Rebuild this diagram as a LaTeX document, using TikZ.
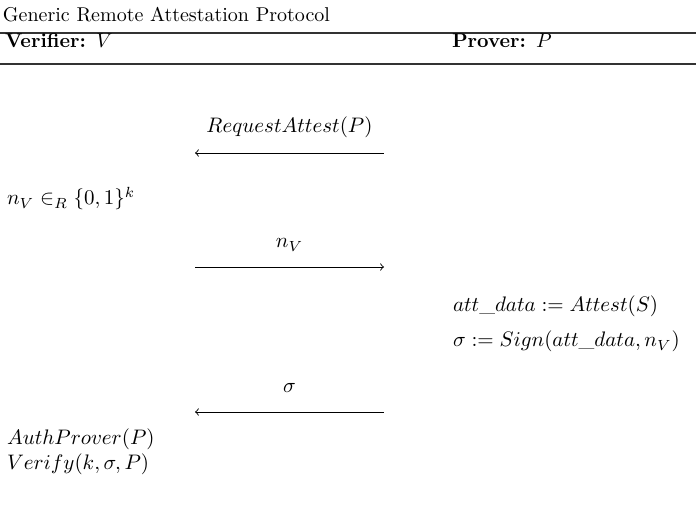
\documentclass[tikz,border=0pt]{standalone}
\usetikzlibrary{positioning}

\begin{document}
\begin{tikzpicture}
[x=0.5pt,y=-0.5pt,
 every node/.style={inner sep=0mm,outer sep=0mm},
 txt/.style={anchor=base west,scale=1.05},
 lbl/.style={anchor=base,scale=1.05},
 head/.style={anchor=base west,font=\bfseries},
 msg/.style={line width=0.45pt},
 hrule/.style={line width=0.7pt,black!80}]
\useasboundingbox (0,0) rectangle (696,506);

\node[anchor=base west] (title) at (3,22) {Generic Remote Attestation Protocol};
\coordinate (r1L) at (0,33);
\coordinate (r1R) at (696,33);
\draw[hrule] (r1L) -- (r1R);
\node[head] (ver) at (5,48)   {Verifier: $V$};
\node[head] (pro) at (452,48) {Prover: $P$};
\coordinate (r2L) at (0,64);
\coordinate (r2R) at (696,64);
\draw[hrule] (r2L) -- (r2R);

% message 1
\coordinate (m1L) at (195,153);
\coordinate (m1R) at (384,153);
\node[lbl] (m1) at (289.5,133) {$RequestAttest(P)$};
\draw[msg,<-] (m1L) -- (m1R);

\node[txt] (nonce) at (7,205) {$n_V \in_R \{0,1\}^k$};

% message 2
\coordinate (m2L) at (195,267);
\coordinate (m2R) at (384,267);
\node[lbl] (m2) at (289.5,248) {$n_V$};
\draw[msg,->] (m2L) -- (m2R);

\node[txt] (att)  at (453,312) {$att\_data := Attest(S)$};
\node[txt] (sign) at (453,347) {$\sigma := Sign(att\_data, n_V)$};

% message 3
\coordinate (m3L) at (195,412);
\coordinate (m3R) at (384,412);
\node[lbl] (m3) at (289.5,393) {$\sigma$};
\draw[msg,<-] (m3L) -- (m3R);

\node[txt] (auth) at (7,445) {$AuthProver(P)$};
\node[txt] (vrf)  at (7,470) {$Verify(k, \sigma, P)$};
\end{tikzpicture}
\end{document}
